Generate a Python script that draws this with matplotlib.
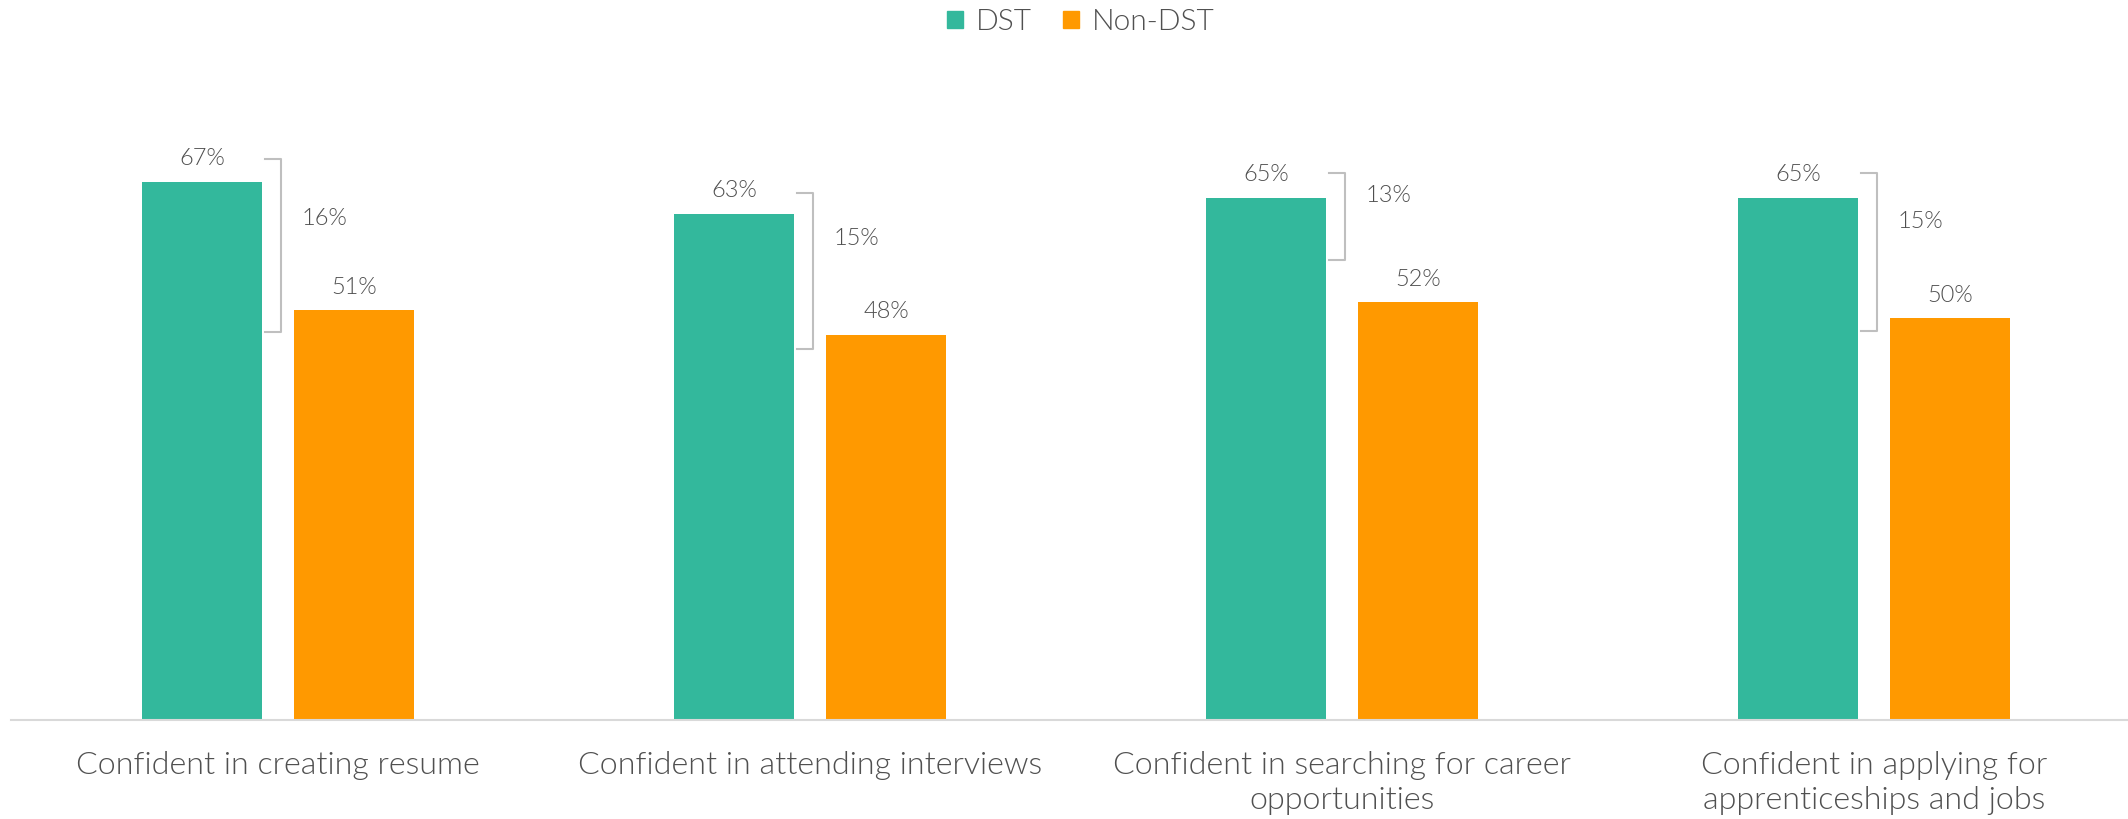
import matplotlib.pyplot as plt
from matplotlib.patches import Patch
import numpy as np

# survey results, % of respondents
categories = ["Confident in creating resume",
              "Confident in attending interviews",
              "Confident in searching for career\nopportunities",
              "Confident in applying for\napprenticeships and jobs"]
dst = [67, 63, 65, 65]
non_dst = [51, 48, 52, 50]

# bracket spans (top, bottom) and gap-label heights, in % units
bracket_top = [69.9, 65.6, 68.1, 68.1]
bracket_bottom = [48.3, 46.2, 57.3, 48.4]
gap_label_y = [62.5, 59.9, 65.3, 62.1]

TEAL = "#33b89c"
ORANGE = "#ff9900"
TEXT = "#505050"
GREY = "#bfbfbf"

plt.rcParams['font.family'] = ['Lato', 'DejaVu Sans']
plt.rcParams['font.weight'] = 300

fig = plt.figure(figsize=(21.28, 8.19), dpi=100)
ax = fig.add_axes([11 / 2128, 0.1209, 1 - 11 / 2128, 0.7844])

x = np.arange(len(categories))
w = 0.2256
x_dst = x - 0.143
x_non = x + 0.143

ax.bar(x_dst, dst, width=w, color=TEAL, zorder=2)
ax.bar(x_non, non_dst, width=w, color=ORANGE, zorder=2)

for i in range(len(categories)):
    ax.text(x_dst[i], dst[i] + 2.9, f"{dst[i]}%", ha='center', va='center',
            fontsize=17, color=TEXT)
    ax.text(x_non[i], non_dst[i] + 2.9, f"{non_dst[i]}%", ha='center', va='center',
            fontsize=17, color=TEXT)
    # bracket showing the gap between the two groups
    bx = x[i] + 0.006
    ax.plot([bx - 0.03, bx, bx, bx - 0.03],
            [bracket_top[i], bracket_top[i], bracket_bottom[i], bracket_bottom[i]],
            color=GREY, lw=1.5, zorder=3)
    ax.text(bx + 0.038, gap_label_y[i], f"{dst[i] - non_dst[i]}%", ha='left', va='center',
            fontsize=17, color=TEXT)

ax.set_ylim(0, 80)
ax.set_xlim(-267 / 532, (2128 - 278) / 532)
ax.set_yticks([])
ax.set_xticks(x)
ax.set_xticklabels(categories, fontsize=23.2, color=TEXT, linespacing=1.27)
ax.tick_params(axis='x', length=0, pad=22.5)
for side in ['top', 'right', 'left']:
    ax.spines[side].set_visible(False)
ax.spines['bottom'].set_color('#d9d9d9')
ax.spines['bottom'].set_linewidth(1.5)

handles = [Patch(color=TEAL, label='DST'), Patch(color=ORANGE, label='Non-DST')]
fig.legend(handles=handles, loc='center', bbox_to_anchor=(0.508, 0.973), ncol=2,
           frameon=False, fontsize=21.5, handlelength=0.52, handleheight=0.52,
           handletextpad=0.45, columnspacing=1.05, labelcolor=TEXT)

fig.savefig("out.png", dpi=100)
